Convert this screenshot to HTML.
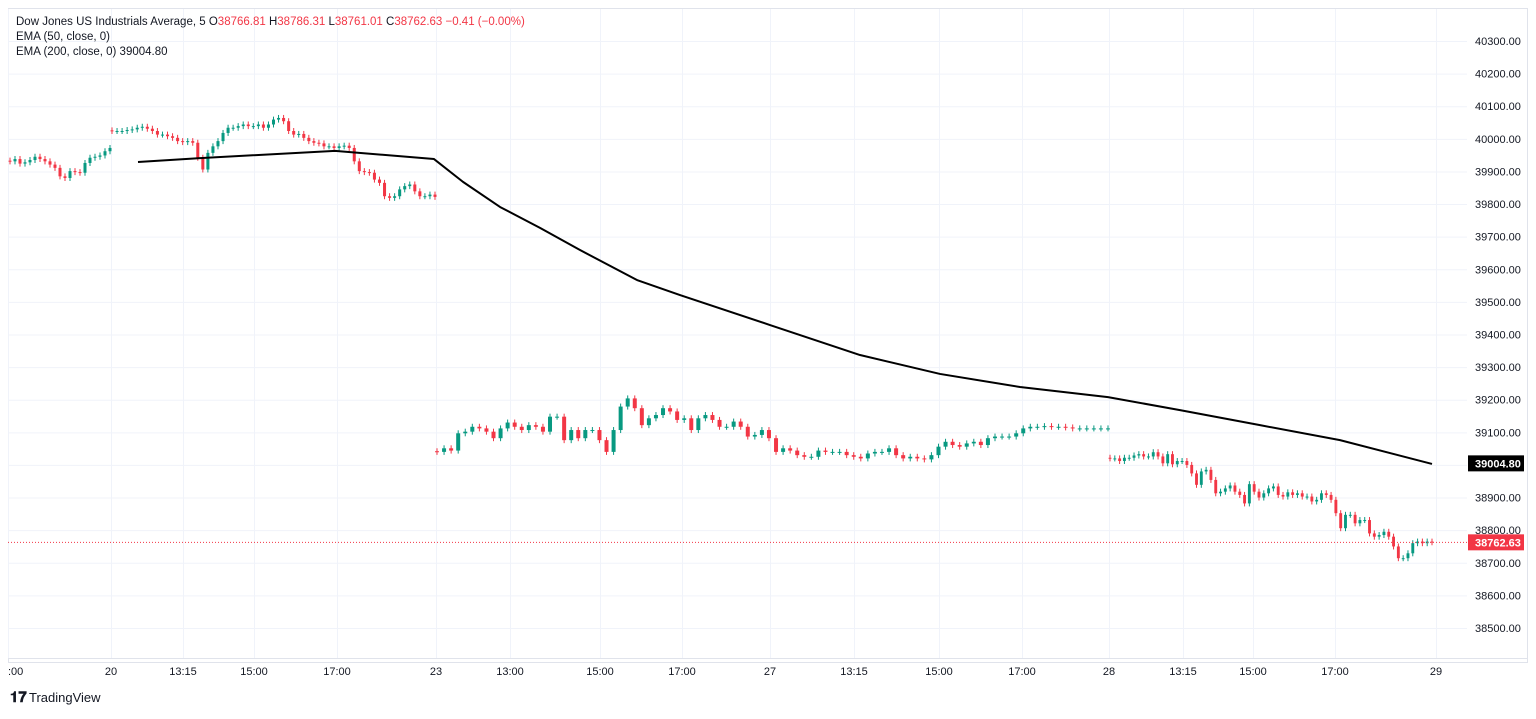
<!DOCTYPE html>
<html><head><meta charset="utf-8"><style>
html,body{margin:0;padding:0;background:#fff;}
body{width:1536px;height:714px;overflow:hidden;font-family:"Liberation Sans",sans-serif;}
svg text{font-family:"Liberation Sans",sans-serif;}
</style></head><body>
<svg id="c" width="1536" height="714">
<rect x="8.5" y="8.5" width="1519" height="654" fill="#fff" stroke="#e0e3eb"/>
<g id="grid"></g>
<g id="candles"></g>
<g id="ema"></g>
<g id="axes"></g>
<line x1="8" y1="658.5" x2="1527" y2="658.5" stroke="#e0e3eb"/>
<text x="16" y="25" font-size="11.5" fill="#131722">Dow Jones US Industrials Average, 5 <tspan fill="#131722">O</tspan><tspan fill="#f23645">38766.81</tspan> <tspan fill="#131722">H</tspan><tspan fill="#f23645">38786.31</tspan> <tspan fill="#131722">L</tspan><tspan fill="#f23645">38761.01</tspan> <tspan fill="#131722">C</tspan><tspan fill="#f23645">38762.63 −0.41 (−0.00%)</tspan></text>
<text x="16" y="40" font-size="11.5" fill="#131722">EMA (50, close, 0)</text>
<text x="16" y="55" font-size="11.5" fill="#131722">EMA (200, close, 0)  39004.80</text>
<g>
<text x="10" y="702" font-size="15" font-weight="bold" fill="#131722">𝟏𝟕</text>
<text x="29" y="702" font-size="13" fill="#131722">TradingView</text>
</g>
</svg>
<script>
// ---- data ----
const priceTicks = [40300,40200,40100,40000,39900,39800,39700,39600,39500,39400,39300,39200,39100,39000,38900,38800,38700,38600,38500];
const timeLabels = [":00","20","13:15","15:00","17:00","23","13:00","15:00","17:00","27","13:15","15:00","17:00","28","13:15","15:00","17:00","29"];
const timeLabelT = [0,103,175,246,329,428,502,592,674,762,846,931,1014,1101,1175,1245,1327,1428];
const segStart = [2,104,429,1102];
const segEnd = [102,427,1100,1424];
const seg1 = [39931,39938,39924,39928,39935,39945,39938,39931,39921,39911,39885,39880,39901,39898,39896,39926,39942,39945,39949,39962,39972];
const seg2 = [40024,40024,40024,40027,40029,40034,40037,40031,40024,40013,40013,40008,40003,39993,39990,39993,39988,39942,39906,39957,39977,39993,40018,40034,40034,40039,40044,40039,40039,40044,40034,40044,40059,40064,40054,40024,40013,40015,40003,39993,39988,39986,39977,39977,39972,39977,39979,39972,39931,39901,39898,39896,39875,39865,39824,39819,39824,39845,39855,39860,39839,39824,39824,39829,39822];
const seg3 = [39040,39051,39044,39097,39102,39117,39112,39102,39082,39112,39130,39117,39107,39122,39117,39102,39148,39148,39076,39107,39082,39107,39107,39076,39040,39107,39179,39204,39174,39122,39143,39153,39174,39164,39138,39143,39107,39143,39153,39138,39117,39117,39133,39117,39087,39092,39107,39082,39040,39051,39044,39030,39025,39025,39044,39040,39040,39040,39030,39025,39020,39035,39040,39040,39051,39030,39020,39025,39020,39017,39030,39056,39071,39061,39056,39066,39071,39061,39082,39087,39087,39087,39097,39112,39117,39117,39119,39117,39117,39115,39112,39112,39112,39112,39112,39112];
const seg4 = [39020,39020,39012,39022,39022,39029,39033,39026,39026,39039,39026,39005,39033,39002,39012,39012,39000,38974,38939,38980,38985,38954,38913,38918,38928,38937,38918,38908,38882,38941,38918,38900,38913,38928,38934,38908,38903,38916,38908,38913,38903,38903,38888,38893,38913,38908,38893,38852,38806,38847,38847,38821,38831,38831,38790,38780,38785,38795,38780,38750,38714,38714,38729,38760,38765,38760,38765,38763];
const emaT = [130,192,327,426,455,492,532,572,629,672,762,852,932,1012,1100,1172,1252,1332,1424];
const emaV = [39929,39941,39963,39938,39868,39791,39727,39659,39567,39521,39429,39337,39279,39239,39208,39168,39122,39076,39003];
const lastPrice = 38762.63;
const emaLast = 39004.80;
// ---- scales ----
const y = v => 41 + (40300 - v) * 0.3261;
const x = t => 8 + t;
const NS = "http://www.w3.org/2000/svg";
function mk(tag, attrs, parent){const e=document.createElementNS(NS,tag);for(const k in attrs)e.setAttribute(k,attrs[k]);parent.appendChild(e);return e;}
const grid=document.getElementById('grid'), axes=document.getElementById('axes'), cg=document.getElementById('candles');
priceTicks.forEach(p=>{
  const l=mk('line',{x1:8,x2:1467,y1:y(p)+0.5,y2:y(p)+0.5,stroke:'#f0f3fa'},grid);
  
  
  const t=mk('text',{x:1475,y:y(p)+4,'font-size':11,fill:'#131722'},axes);
  t.textContent=p.toFixed(2);
  
  
});
timeLabels.forEach((s,i)=>{
  const xx=x(timeLabelT[i]);
  const l=mk('line',{x1:xx+0.5,x2:xx+0.5,y1:9,y2:658,stroke:'#f0f3fa'},grid);
  
  
  const t=mk('text',{x:xx,y:675,'font-size':11,fill:'#131722','text-anchor':i===0?'start':'middle'},axes);
  t.textContent=s;
  
  
});
[seg1,seg2,seg3,seg4].forEach((seg,si)=>{
  const n=seg.length, step=(segEnd[si]-segStart[si])/(n-1);
  const w=Math.max(2,Math.min(4,step*0.6));
  seg.forEach((c,i)=>{
    const o=i===0?c+2:seg[i-1];
    const up=c>=o, col=up?'#089981':'#f23645';
    const cx=x(segStart[si]+i*step);
    const top=y(Math.max(o,c)), bot=y(Math.min(o,c));
    const wk=mk('line',{x1:cx,x2:cx,y1:top-3,y2:bot+3,stroke:col,'stroke-width':1},cg);
    
    
    const b=mk('rect',{x:cx-w/2,y:top,width:w,height:Math.max(1,bot-top),fill:col},cg);
    
    
  });
});
const ema=document.getElementById('ema');
const pl=mk('polyline',{points:emaT.map((t,i)=>x(t)+','+y(emaV[i])).join(' '),fill:'none',stroke:'#000','stroke-width':2,'stroke-linejoin':'round'},ema);


const lp=mk('line',{x1:8,x2:1467,y1:y(lastPrice),y2:y(lastPrice),stroke:'#f23645','stroke-dasharray':'1,2'},axes);


function badge(v,bg,name){
  const r=mk('rect',{x:1468,y:y(v)-8,width:56,height:16,fill:bg},axes);
  
  
  const t=mk('text',{x:1475,y:y(v)+4,'font-size':11,fill:'#fff','font-weight':'bold'},axes);
  t.textContent=v.toFixed(2);
  
  
}
badge(emaLast,'#000','ema-price-badge');
badge(lastPrice,'#f23645','last-price-badge');
</script>
</body></html>
